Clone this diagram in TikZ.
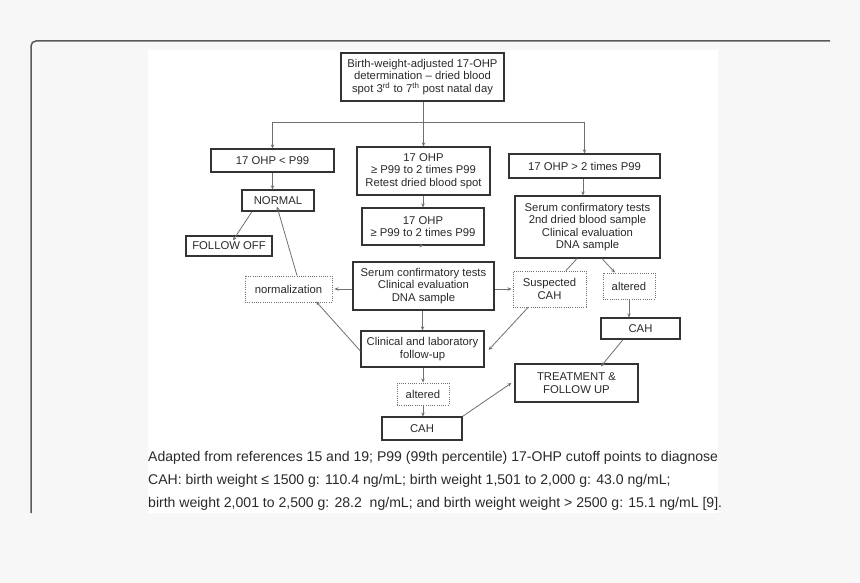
\documentclass[tikz,border=0pt]{standalone}
\usepackage{fontspec}
\setmainfont{Liberation Sans}
\usetikzlibrary{arrows.meta,calc}
\definecolor{bg}{HTML}{F7F7F7}
\definecolor{framec}{HTML}{5A5A5A}
\definecolor{boxline}{HTML}{333333}
\definecolor{connc}{HTML}{707070}
\definecolor{txt}{HTML}{2A2A2A}
\begin{document}
\begin{tikzpicture}[x=1pt,y=-1pt,
  box/.style={draw=boxline,line width=1.2pt,fill=white,inner sep=0pt,align=center,text=txt,font=\fontsize{11.3}{12.5}\selectfont},
  dbox/.style={box,draw=connc,line width=0.9pt,dash pattern=on 1pt off 1.2pt},
  conn/.style={draw=connc,line width=0.8pt},
  arr/.style={conn,-{Stealth[length=4pt,width=3.5pt]}},
  captxt/.style={anchor=base west,inner sep=0pt,text=txt,font=\fontsize{14.05}{16}\selectfont}]
\fill[bg] (0,0) rectangle (860,583);
\useasboundingbox (0,0) rectangle (860,583);
\fill[white] (148,50) rectangle (718,513);
\draw[framec,line width=1.5pt,rounded corners=5pt] (31,513) -- (31,41) -- (830,41);

\node[box,minimum width=163pt,minimum height=48pt] (top) at (422.5,77)
  {Birth-weight-adjusted 17-OHP\\determination -- dried blood\\spot 3\textsuperscript{rd} to 7\textsuperscript{th} post natal day};
\node[box,minimum width=123pt,minimum height=23pt] (l1) at (272.5,160.5) {17 OHP < P99};
\node[box,minimum width=133pt,minimum height=48pt] (m1) at (423.5,171) {17 OHP\\≥ P99 to 2 times P99\\Retest dried blood spot};
\node[box,minimum width=151pt,minimum height=24pt] (r1) at (584.5,166) {17 OHP > 2 times P99};
\node[box,minimum width=72pt,minimum height=21pt] (normal) at (278,200.5) {NORMAL};
\node[box,minimum width=86pt,minimum height=20pt] (foff) at (229,246) {FOLLOW OFF};
\node[box,minimum width=122pt,minimum height=37pt] (m2) at (423,226.5) {17 OHP\\≥ P99 to 2 times P99};
\node[box,minimum width=145pt,minimum height=62pt] (r2) at (587.5,227) {Serum confirmatory tests\\2nd dried blood sample\\Clinical evaluation\\DNA sample};
\node[box,minimum width=141pt,minimum height=48pt] (serum) at (423.5,286) {Serum confirmatory tests\\Clinical evaluation\\DNA sample};
\node[dbox,minimum width=87pt,minimum height=26pt] (norm) at (288.5,289) {normalization};
\node[dbox,minimum width=73pt,minimum height=36pt] (susp) at (549.5,289) {Suspected\\CAH};
\node[dbox,minimum width=52pt,minimum height=26pt] (altr) at (629,286) {altered};
\node[box,minimum width=79pt,minimum height=21pt] (cahr) at (640.5,328.5) {CAH};
\node[box,minimum width=123pt,minimum height=36pt] (clin) at (422.5,349) {Clinical and laboratory\\follow-up};
\node[box,minimum width=123pt,minimum height=38pt] (treat) at (576.5,383) {TREATMENT \&\\FOLLOW UP};
\node[dbox,minimum width=52pt,minimum height=22pt] (altm) at (423,394) {altered};
\node[box,minimum width=80pt,minimum height=23pt] (cahm) at (422,428.5) {CAH};

% bus
\coordinate (bus) at (423,122);
\draw[conn] (top.south -| bus) -- (bus);
\draw[conn] (l1.north |- bus) -- (r1.north |- bus);
\draw[arr] (l1.north |- bus) -- (l1.north);
\draw[arr] (m1.north |- bus) -- (m1.north);
\draw[arr] (r1.north |- bus) -- (r1.north);

\draw[arr] (l1.south) -- (l1.south |- normal.north);
\draw[arr] ([xshift=-26pt]normal.south) -- ([xshift=4pt,yshift=-5pt]foff.north);
\draw[arr] ([xshift=8.5pt]norm.north) -- ([xshift=-1pt,yshift=5pt]normal.south);
\draw[arr] (m1.south -| m2.north) -- (m2.north);
\draw[arr] (m2.south) -- (m2.south -| serum.north);
\draw[arr] (serum.west |- norm.east) -- ([xshift=2pt]norm.east);
\draw[arr] (serum.east |- susp.west) -- ([xshift=-1pt]susp.west);
\draw[arr] (r1.south -| 583,0) -- (r2.north -| 583,0);
\draw[conn] ([xshift=-10.5pt]r2.south) -- ([xshift=16.5pt]susp.north);
\draw[arr] ([xshift=14.5pt]r2.south) -- ([xshift=-14pt]altr.north);
\draw[arr] (altr.south) -- (altr.south |- cahr.north);
\draw[arr] ([xshift=-17.5pt]cahr.south) -- ([xshift=24.5pt,yshift=-3pt]treat.north);
\draw[arr] (serum.south -| clin.north) -- (clin.north);
\draw[arr] ([yshift=-2pt]clin.west) -- ([xshift=27.5pt,yshift=1pt]norm.south);
\draw[arr] ([xshift=-21.5pt]susp.south) -- ([xshift=4pt,yshift=-1pt]clin.east);
\draw[arr] (clin.south -| altm.north) -- (altm.north);
\draw[arr] (altm.south) -- (altm.south |- cahm.north);
\draw[arr] (cahm.north east) -- ([xshift=-3pt]treat.west);

\node[captxt] (cap1) at (148,461) {Adapted from references 15 and 19; P99 (99th percentile) 17-OHP cutoff points to diagnose};
\node[captxt] (cap2) at (148,484) {CAH: birth weight ≤ 1500 g: 110.4 ng/mL; birth weight 1,501 to 2,000 g: 43.0 ng/mL;};
\node[captxt] (cap3) at (148,507) {birth weight 2,001 to 2,500 g: 28.2\ \ ng/mL; and birth weight weight > 2500 g: 15.1 ng/mL [9].};
\end{tikzpicture}
\end{document}
